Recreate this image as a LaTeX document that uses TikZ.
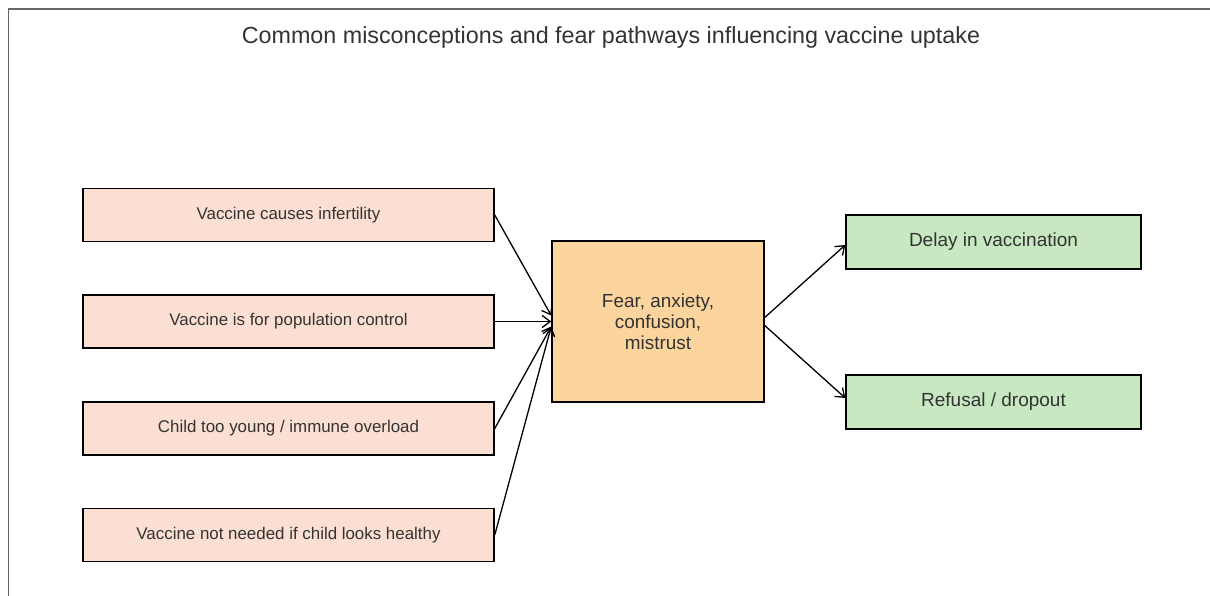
\documentclass[tikz,border=0pt]{standalone}
\usepackage{fontspec}
\setmainfont{Liberation Sans}
\usetikzlibrary{arrows.meta}
\definecolor{misfill}{HTML}{FCDFD3}
\definecolor{fearfill}{HTML}{FCD49E}
\definecolor{outfill}{HTML}{C7E8C1}
\definecolor{txt}{HTML}{333333}
\definecolor{framec}{HTML}{666666}
\tikzset{
  mis/.style={draw=black, line width=1.5pt, fill=misfill, minimum width=411pt, minimum height=53pt, inner sep=0pt, text=txt, font=\fontsize{16.9}{19}\selectfont},
  fear/.style={draw=black, line width=1.5pt, fill=fearfill, minimum width=212pt, minimum height=161pt, inner sep=0pt, text=txt, align=center, font=\fontsize{18.9}{21}\selectfont},
  outc/.style={draw=black, line width=1.5pt, fill=outfill, minimum width=295pt, minimum height=54pt, inner sep=0pt, text=txt, font=\fontsize{19}{21}\selectfont},
  conn/.style={line width=1.3pt, -{Straight Barb[length=8pt,width=12pt,line width=1.3pt]}},
}
\begin{document}
\begin{tikzpicture}[x=1pt,y=-1pt]
\useasboundingbox (0,0) rectangle (1210,596);
\draw[framec, line width=1.5pt] (8.5,596) -- (8.5,9) -- (1210,9);
\node[text=txt, font=\fontsize{23.3}{26}\selectfont] (title) at (611,37) {Common misconceptions and fear pathways influencing vaccine uptake};
\node[mis] (m1) at (288.5,215) {Vaccine causes infertility};
\node[mis] (m2) at (288.5,321.5) {Vaccine is for population control};
\node[mis] (m3) at (288.5,428.5) {Child too young / immune overload};
\node[mis] (m4) at (288.5,535) {Vaccine not needed if child looks healthy};
\node[fear] (f) at (658,321.5) {Fear, anxiety,\\confusion,\\mistrust};
\node[outc] (o1) at (993.5,242) {Delay in vaccination};
\node[outc] (o2) at (993.5,402) {Refusal / dropout};
\draw[conn] (m1.east) -- ([yshift=6pt]f.west);
\draw[conn] (m2.east) -- (f.west);
\draw[conn] (m3.east) -- ([yshift=-5pt]f.west);
\draw[conn] (m4.east) -- ([yshift=-5pt]f.west);
\draw[conn] ([yshift=4pt]f.east) -- ([yshift=-3pt]o1.west);
\draw[conn] ([yshift=-4pt]f.east) -- ([yshift=4pt]o2.west);
\end{tikzpicture}
\end{document}
